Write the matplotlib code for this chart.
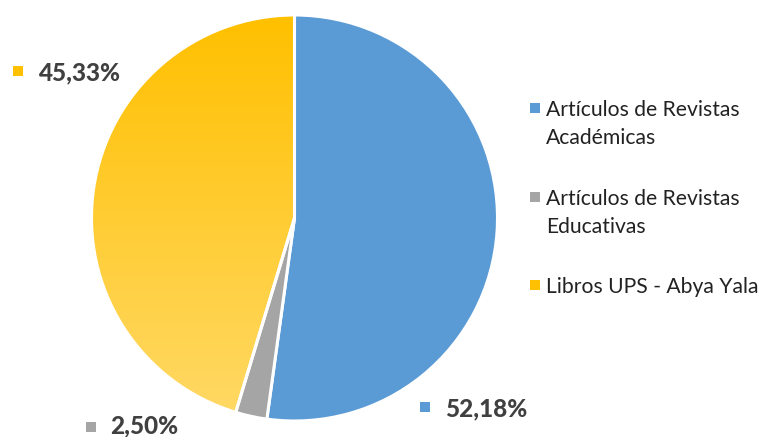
import numpy as np
import matplotlib
matplotlib.use("Agg")
import matplotlib.pyplot as plt
from matplotlib.colors import LinearSegmentedColormap

plt.rcParams['font.family'] = ['Lato', 'DejaVu Sans']

categories = ["Artículos de Revistas\nAcadémicas",
              "Artículos de Revistas\nEducativas",
              "Libros UPS - Abya Yala"]
values = [52.18, 2.50, 45.33]
labels = ["52,18%", "2,50%", "45,33%"]
colors = ["#5B9BD5", "#A5A5A5", "#FFC000"]
yellow_light = "#FFD966"

W, H = 763, 437
fig = plt.figure(figsize=(W / 100, H / 100), dpi=100)
ax = fig.add_axes([0, 0, 1, 1])

cx, cy, r = 294.5, 437 - 218, 203
wedges, _ = ax.pie(values, colors=colors, startangle=90, counterclock=False,
                   center=(cx, cy), radius=r,
                   wedgeprops=dict(edgecolor="white", linewidth=2.2))

# vertical gradient on the yellow slice
yw = wedges[2]
yw.set_facecolor("none")
grad = np.linspace(0, 1, 256).reshape(-1, 1)
cmap = LinearSegmentedColormap.from_list("yel", [yellow_light, colors[2]])
im = ax.imshow(grad, cmap=cmap, extent=(cx - r, cx + r, cy - r, cy + r),
               origin="lower", aspect="auto", zorder=0.5)
im.set_clip_path(yw)

ax.set_xlim(0, W)
ax.set_ylim(0, H)
ax.set_aspect("equal")
ax.axis("off")

# data labels
label_pos = [(445, 437 - 409), (110, 437 - 426), (38, 437 - 73)]
marker_pos = [(425, 437 - 407), (91, 437 - 427), (18, 437 - 71)]
for lab, c, (tx, ty), (mx, my) in zip(labels, colors, label_pos, marker_pos):
    ax.scatter([mx], [my], marker="s", s=50, color=c, zorder=5, linewidths=0)
    ax.text(tx, ty, lab, fontsize=17.5, fontweight="black", color="#404040",
            ha="left", va="center")

# legend
leg_y = [437 - 110, 437 - 199, 437 - 287]
for cat, c, ly in zip(categories, colors, leg_y):
    ax.scatter([535], [ly + 2], marker="s", s=42, color=c, zorder=5, linewidths=0)
    ax.text(546, ly + 10, cat, fontsize=15.2, color="#222222", ha="left",
            va="top", linespacing=1.5)

fig.savefig("out.png", dpi=100)
